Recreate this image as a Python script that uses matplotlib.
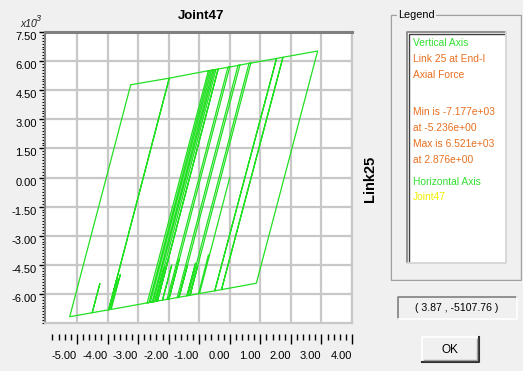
import numpy as np
import matplotlib.pyplot as plt
from matplotlib import font_manager as fm
from matplotlib.patches import Rectangle

# hysteresis path: joint displacement vs link axial force (x10^3), turning points
disp = [0.00, -0.99, -1.40, -1.12, -1.40, -2.20, -1.90, -2.20, -3.88, -3.58,
        -3.91, -3.65, -3.93, -4.50, -4.25, -4.50, -5.236, -3.24, -1.98, -3.96,
        -3.68, -3.96, -1.98, -0.65, -2.64, -2.70, -0.70, -0.55, -2.54, -2.60,
        -0.60, -0.45, -2.44, -2.15, -2.44, -2.50, -0.50, -0.38, -2.37, -2.00,
        -2.37, -0.38, 0.00, -1.99, -1.66, -1.99, -2.05, -0.06, 0.33, -1.66,
        -1.38, -1.66, -1.72, 0.27, 0.69, -1.30, -1.05, -1.30, -1.36, 0.63,
        2.876, 0.87, -0.27, 1.74, -0.27, -0.49, 1.53, -0.49, -1.02, -0.70]
force = [0.00, -5.98, -6.10, -4.42, -6.10, -6.32, -4.52, -6.32, -6.80, -5.00,
         -6.81, -5.25, -6.81, -6.97, -5.47, -6.97, -7.177, 4.78, 5.12, -6.82,
         -5.15, -6.82, 5.12, 5.52, -6.45, -6.46, 5.50, 5.54, -6.42, -6.44,
         5.53, 5.57, -6.39, -4.65, -6.39, -6.41, 5.56, 5.59, -6.37, -4.15,
         -6.37, 5.59, 5.70, -6.26, -4.25, -6.26, -6.28, 5.68, 5.79, -6.17,
         -4.50, -6.17, -6.19, 5.78, 5.90, -6.07, -4.55, -6.07, -6.08, 5.88,
         6.521, -5.45, -5.78, 6.19, -5.78, -5.84, 6.13, -5.84, -5.99, -4.00]

x_ticks = [-5, -4, -3, -2, -1, 0, 1, 2, 3, 4]
y_ticks = [-6.0, -4.5, -3.0, -1.5, 0.0, 1.5, 3.0, 4.5, 6.0, 7.5]

legend_lines = ['Vertical Axis', 'Link 25 at End-I', 'Axial Force',
                'Min is -7.177e+03', 'at -5.236e+00', 'Max is 6.521e+03', 'at 2.876e+00',
                'Horizontal Axis', 'Joint47']
legend_colors = ['#33e033', '#e87020', '#e87020', '#e87020', '#e87020', '#e87020', '#e87020',
                 '#33e033', '#f0f000']
legend_rows = [43, 59, 75, 112, 128, 144, 160, 182, 197]

names = {f.name for f in fm.fontManager.ttflist}
fam = 'Liberation Sans Narrow' if 'Liberation Sans Narrow' in names else 'Liberation Sans'
plt.rcParams['font.family'] = [fam, 'DejaVu Sans']

bg = '#f0f0f0'
fig = plt.figure(figsize=(5.23, 3.71), dpi=100, facecolor=bg)

# overlay in pixel coordinates for the dialog decorations
ov = fig.add_axes([0, 0, 1, 1])
ov.set_xlim(0, 523)
ov.set_ylim(371, 0)
ov.axis('off')

ov.text(201, 16, 'Joint47', ha='center', va='center', fontsize=9.5, fontweight='bold')
ov.text(20, 27, 'x10', ha='left', va='baseline', fontsize=7.5, style='italic', color='#222222')
ov.text(35.5, 21, '3', ha='left', va='baseline', fontsize=6.5, style='italic', color='#222222')
ov.text(370, 179, 'Link25', ha='center', va='center', rotation=90, fontsize=10.5, fontweight='bold')

# group box
ov.add_patch(Rectangle((392, 16), 130, 265, fc='none', ec='white', lw=1))
ov.add_patch(Rectangle((391, 15), 130, 265, fc='none', ec='#a0a0a0', lw=1))
ov.text(398, 15, 'Legend', ha='left', va='center', fontsize=7.8,
        bbox=dict(fc=bg, ec='none', pad=1))

# white legend box with sunken border
ov.add_patch(Rectangle((407, 32), 98, 230, fc='white', ec='none'))
ov.plot([407, 407, 505], [262, 32, 32], color='#808080', lw=1.2)
ov.plot([408.5, 408.5, 504], [261, 33.5, 33.5], color='#404040', lw=1)
ov.plot([407, 505.5, 505.5], [263, 263, 32], color='#d4d4d4', lw=1.2)
for t, c, r in zip(legend_lines, legend_colors, legend_rows):
    ov.text(413, r, t, ha='left', va='center', fontsize=7.4, color=c)

# coordinate readout box
ov.add_patch(Rectangle((398, 297), 119, 22, fc=bg, ec='none'))
ov.plot([398, 398, 517], [319, 297, 297], color='#808080', lw=1.2)
ov.plot([398, 517, 517], [319, 319, 297], color='white', lw=1.2)
ov.text(457, 308, '( 3.87 , -5107.76 )', ha='center', va='center', fontsize=7.6)

# OK button
ov.add_patch(Rectangle((422, 337), 57, 25, fc=bg, ec='none'))
ov.plot([422, 422, 479], [362, 337, 337], color='white', lw=1.2)
ov.plot([422, 479, 479], [362, 362, 337], color='#303030', lw=1.5)
ov.plot([424, 477, 477], [360, 360, 339], color='#a0a0a0', lw=1)
ov.text(450, 350, 'OK', ha='center', va='center', fontsize=8.5)

# main plot
ax = fig.add_axes([45 / 523, 1 - 323 / 371, 307 / 523, 291 / 371])
ax.set_facecolor('white')
ax.plot(disp, force, color='#22e022', lw=0.9, zorder=3)
ax.set_xlim(-6.045, 4.0)
ax.set_ylim(-7.5, 7.5)

ax.set_xticks(x_ticks)
ax.set_xticklabels(['%.2f' % v for v in x_ticks])
ax.set_xticks(np.arange(-5.8, 3.9, 0.2), minor=True)
ax.set_yticks(y_ticks)
ax.set_yticklabels(['%.2f' % v for v in y_ticks])
ax.set_yticks(np.arange(-7.5, 7.6, 0.15), minor=True)

ax.grid(True, which='major', color='#c8c8c8', lw=1.6, zorder=1)
ax.set_axisbelow(True)

ax.spines['top'].set_color('#808080')
ax.spines['top'].set_linewidth(2.2)
ax.spines['left'].set_color('#808080')
ax.spines['left'].set_linewidth(1.5)
ax.spines['right'].set_color('#c8c8c8')
ax.spines['right'].set_linewidth(1.6)
ax.spines['bottom'].set_position(('outward', 8))
ax.spines['bottom'].set_color('none')
ax.plot([0, 1], [0, 0], transform=ax.transAxes, color='#c8c8c8', lw=1.6, clip_on=False, zorder=4)

ax.tick_params(axis='x', which='major', length=7, width=1, direction='out', pad=5, labelsize=8)
ax.tick_params(axis='x', which='minor', length=4, width=1, direction='out')
ax.tick_params(axis='y', which='major', length=4, width=1, direction='out', pad=2, labelsize=8)
ax.tick_params(axis='y', which='minor', length=2, width=0.8, direction='out')
for lab in ax.get_xticklabels():
    lab.set_ha('right')
for lab in ax.get_yticklabels():
    lab.set_va('top')

fig.savefig('out.png', dpi=100, facecolor=bg)
